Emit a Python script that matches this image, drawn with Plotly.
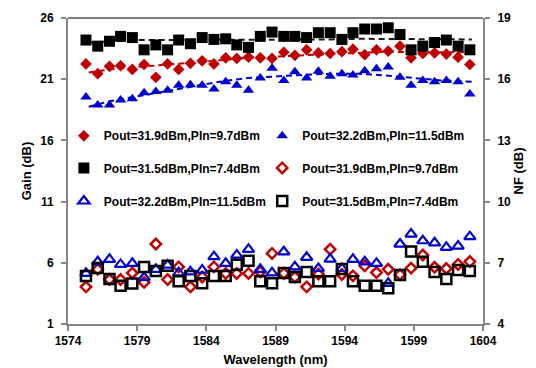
import plotly.graph_objects as go

wavelength = [1575.3, 1576.15, 1577.0, 1577.8, 1578.65, 1579.5, 1580.35, 1581.2, 1582.0, 1582.85,
              1583.7, 1584.55, 1585.4, 1586.2, 1587.05, 1587.9, 1588.75, 1589.6, 1590.4, 1591.25,
              1592.1, 1592.95, 1593.8, 1594.6, 1595.45, 1596.3, 1597.15, 1598.0, 1598.8, 1599.65,
              1600.5, 1601.35, 1602.2, 1603.05]

gain_p319 = [22.25, 21.45, 22.05, 22.1, 21.8, 22.2, 21.15, 22.25, 21.8, 22.3,
             22.5, 22.25, 22.75, 22.7, 22.8, 22.75, 22.7, 23.2, 22.95, 23.4,
             23.15, 23.1, 23.25, 23.45, 23.0, 23.4, 23.3, 23.7, 22.75, 23.1,
             23.15, 23.05, 22.8, 22.2]
gain_p322 = [19.55, 18.9, 18.9, 19.3, 19.4, 19.9, 20.0, 20.1, 20.5, 20.55,
             20.5, 20.2, 20.8, 20.5, 20.1, 21.1, 21.9, 20.9, 21.6, 21.1,
             21.65, 21.25, 21.45, 21.35, 21.7, 21.85, 22.0, 21.15, 20.5, 20.9,
             20.8, 20.9, 20.8, 19.8]
gain_p315 = [24.2, 23.7, 24.1, 24.5, 24.4, 23.4, 23.8, 23.4, 24.2, 23.9,
             24.4, 24.25, 24.3, 23.8, 23.6, 24.5, 24.85, 24.5, 24.5, 24.4,
             24.8, 24.8, 24.25, 24.8, 25.1, 25.1, 25.2, 24.65, 23.4, 23.7,
             24.0, 24.2, 23.7, 23.4]

nf_p319 = [5.82, 6.68, 6.18, 6.18, 6.5, 6.04, 7.92, 6.18, 6.8, 5.82,
           6.3, 6.8, 6.48, 6.48, 6.48, 6.56, 7.46, 6.48, 6.3, 5.82,
           6.45, 7.66, 6.43, 6.36, 6.85, 6.52, 6.68, 6.42, 6.74, 7.38,
           6.78, 6.72, 6.92, 7.06]
nf_p322 = [6.48, 7.05, 7.17, 6.92, 6.97, 6.28, 6.68, 6.89, 6.51, 6.56,
           6.64, 7.3, 6.97, 7.38, 7.66, 6.68, 6.51, 7.54, 6.8, 7.27,
           6.72, 7.18, 6.72, 7.17, 7.05, 6.97, 5.99, 7.92, 8.41, 8.08,
           7.98, 7.76, 7.82, 8.28]
nf_p315 = [6.35, 6.75, 6.2, 5.87, 5.99, 6.8, 6.6, 6.85, 6.1, 6.35,
           6.0, 6.35, 6.35, 6.9, 7.1, 6.1, 6.0, 6.5, 6.3, 6.55,
           6.1, 6.1, 6.7, 6.1, 5.87, 5.87, 5.75, 6.4, 7.55, 7.05,
           6.55, 6.2, 6.65, 6.6]

# simulated gain curves (dashed)
sim_wl = [1575.5, 1577.0, 1579.0, 1581.0, 1583.0, 1585.0, 1587.0, 1589.0, 1591.0,
          1593.0, 1595.0, 1597.0, 1599.0, 1601.0, 1603.2]
sim_p319 = [21.55, 21.8, 22.0, 22.15, 22.35, 22.55, 22.75, 22.85, 22.95,
            23.05, 23.15, 23.25, 23.2, 23.2, 23.2]
sim_p322 = [18.75, 19.2, 19.6, 20.0, 20.4, 20.8, 21.1, 21.25, 21.35,
            21.45, 21.45, 21.3, 21.1, 20.9, 20.8]
sim_p315 = [24.0, 24.1, 24.2, 24.2, 24.2, 24.2, 24.2, 24.2, 24.25,
            24.25, 24.3, 24.3, 24.25, 24.25, 24.25]

labels = ["Pout=31.9dBm,PIn=9.7dBm", "Pout=32.2dBm,PIn=11.5dBm", "Pout=31.5dBm,PIn=7.4dBm"]

RED = "#C00000"
BLUE = "#0000CC"
BLACK = "#000000"

fig = go.Figure()

# dashed simulation lines (behind markers)
for ys, col in [(sim_p315, "#1a1a1a"), (sim_p319, RED), (sim_p322, BLUE)]:
    fig.add_trace(go.Scatter(x=sim_wl, y=ys, mode="lines", showlegend=False,
                             line=dict(color=col, width=2, dash="6px,4px"), hoverinfo="skip"))

# gain (filled)
fig.add_trace(go.Scatter(x=wavelength, y=gain_p319, mode="markers", name=labels[0], legend="legend",
                         marker=dict(symbol="diamond", size=9, color=RED)))
fig.add_trace(go.Scatter(x=wavelength, y=gain_p322, mode="markers", name=labels[1], legend="legend2",
                         marker=dict(symbol="triangle-up", size=10, color=BLUE)))
fig.add_trace(go.Scatter(x=wavelength, y=gain_p315, mode="markers", name=labels[2], legend="legend3",
                         marker=dict(symbol="square", size=11, color=BLACK)))
# NF (open)
fig.add_trace(go.Scatter(x=wavelength, y=nf_p319, mode="markers", name=labels[0], legend="legend4",
                         yaxis="y2",
                         marker=dict(symbol="diamond-open", size=8, color=RED, line=dict(width=2.5, color=RED))))
fig.add_trace(go.Scatter(x=wavelength, y=nf_p322, mode="markers", name=labels[1], legend="legend5",
                         yaxis="y2",
                         marker=dict(symbol="triangle-up-open", size=10, color=BLUE, line=dict(width=2.2, color=BLUE))))
fig.add_trace(go.Scatter(x=wavelength, y=nf_p315, mode="markers", name=labels[2], legend="legend6",
                         yaxis="y2",
                         marker=dict(symbol="square-open", size=10, color=BLACK, line=dict(width=2.5, color=BLACK))))

FONT = "Liberation Sans"
tickfont = dict(family=FONT, size=12, color="#000000", weight="bold")
titlefont = dict(family=FONT, size=13, color="#000000", weight="bold")
legfont = dict(family=FONT, size=12, color="#000000", weight="bold")

COL1, COL2 = -0.010, 0.468
ROW1, ROW2, ROW3 = 0.615, 0.510, 0.402

def leg(x, y):
    return dict(orientation="v", x=x, xanchor="left", y=y, yanchor="middle",
                bgcolor="rgba(0,0,0,0)", font=legfont, itemwidth=30)

axis_common = dict(showgrid=False, zeroline=False, showline=True, linecolor="#868686", linewidth=2,
                   ticks="outside", ticklen=5, tickwidth=2, tickcolor="#868686", tickfont=tickfont,
                   automargin=False)

fig.update_layout(
    width=536, height=368,
    margin=dict(l=68, r=53, t=18, b=44),
    paper_bgcolor="white", plot_bgcolor="white",
    showlegend=True,
    legend=leg(COL1, ROW1), legend2=leg(COL2, ROW1),
    legend3=leg(COL1, ROW2), legend4=leg(COL2, ROW2),
    legend5=leg(COL1, ROW3), legend6=leg(COL2, ROW3),
    xaxis=dict(range=[1574, 1604], tickmode="array", tickvals=[1574, 1579, 1584, 1589, 1594, 1599, 1604],
               title=dict(text="Wavelength (nm)", font=titlefont, standoff=7), **axis_common),
    yaxis=dict(range=[1, 26], tickmode="array", tickvals=[1, 6, 11, 16, 21, 26], ticklabelstandoff=5,
               title=dict(text="Gain (dB)", font=titlefont, standoff=6), **axis_common),
    yaxis2=dict(range=[4, 19], tickmode="array", tickvals=[4, 7, 10, 13, 16, 19], overlaying="y", side="right",
                ticklabelstandoff=5,
                title=dict(text="NF (dB)", font=titlefont, standoff=4), **axis_common),
    shapes=[dict(type="line", xref="paper", yref="paper", x0=0, x1=1, y0=1, y1=1,
                 line=dict(color="#000000", width=1))],
)

fig.write_html("out.html", config={"displayModeBar": False},
               post_script="document.body.style.margin='0';document.body.style.overflow='hidden';")
